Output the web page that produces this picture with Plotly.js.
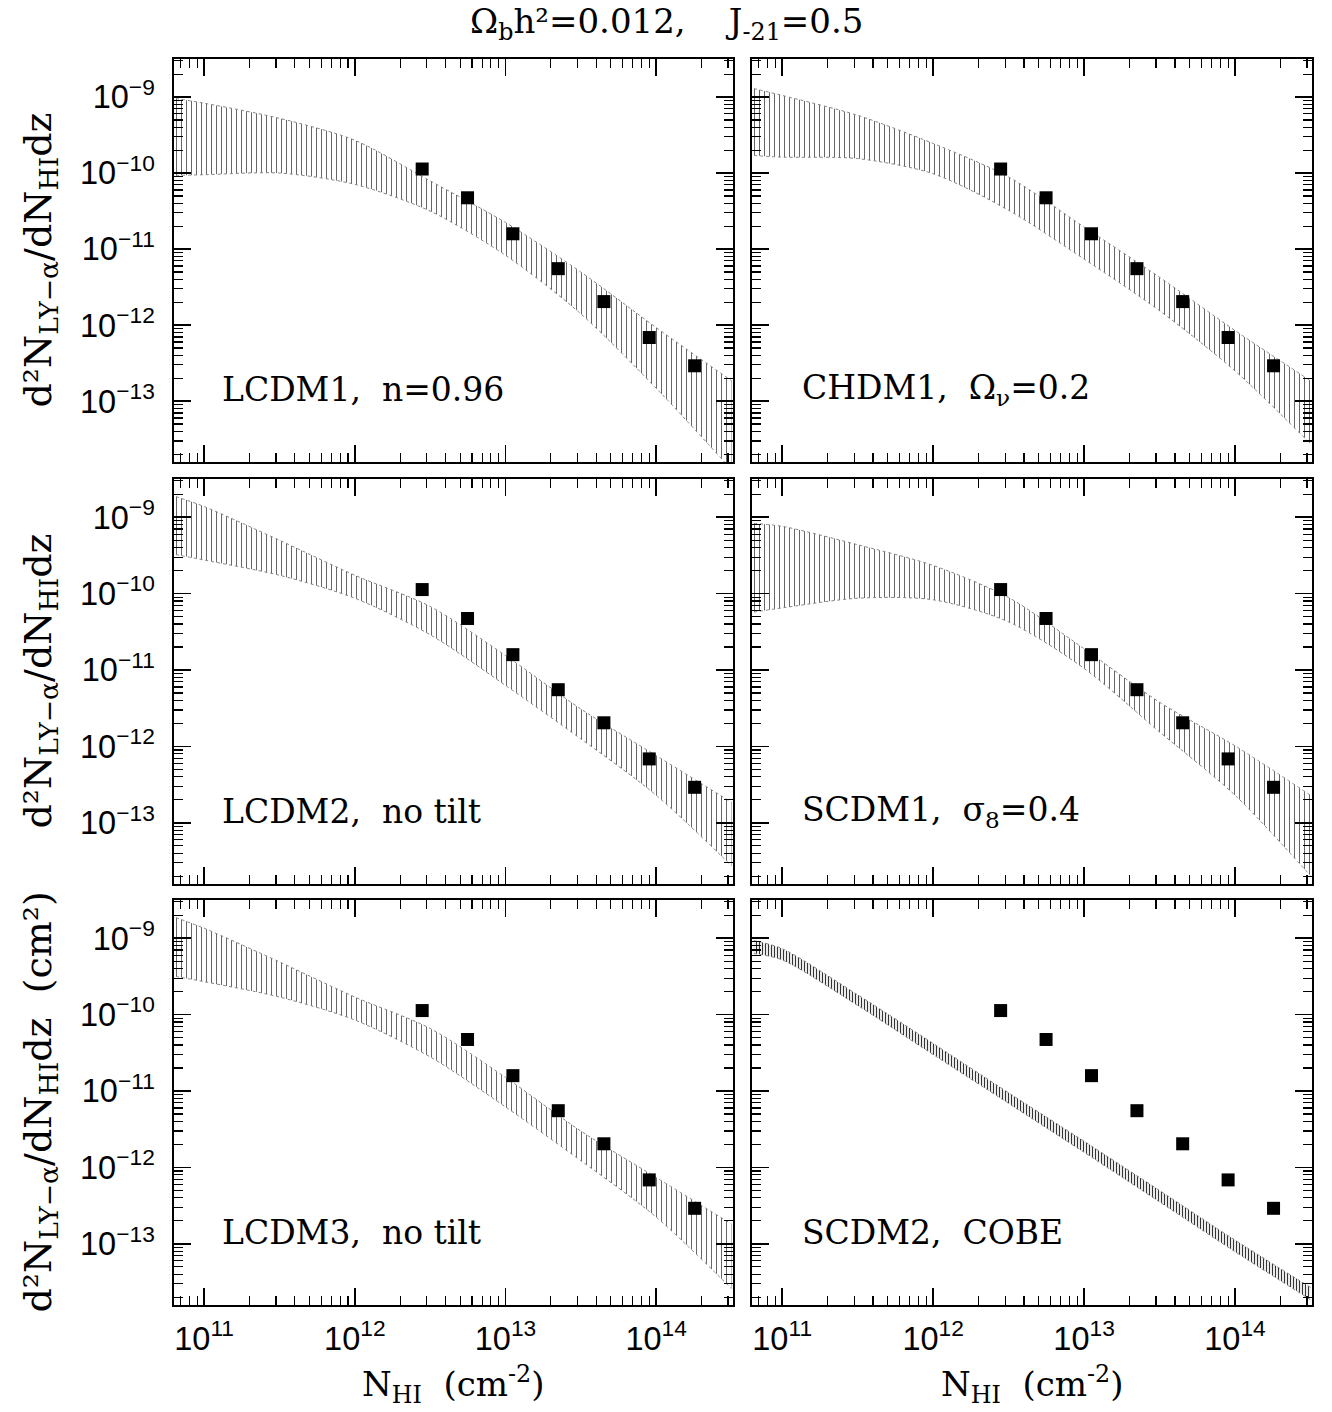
<!DOCTYPE html>
<html>
<head>
<meta charset="utf-8">
<script src="https://cdn.plot.ly/plotly-3.0.1.min.js"></script>
<style>html,body{margin:0;padding:0;background:#fff;}</style>
</head>
<body>
<div id="chart" style="width:1332px;height:1412px;"></div>
<script>
// ---------- data ----------
// observed points (same in all panels)
const obsN = [2.8e12, 5.6e12, 1.12e13, 2.24e13, 4.5e13, 9.0e13, 1.8e14];
const obsF = [1.13e-10, 4.73e-11, 1.59e-11, 5.53e-12, 2.04e-12, 6.87e-13, 2.92e-13];

// column densities at which band edges were read
const bandN = [6.5e10, 1e11, 3.16e11, 1e12, 3.16e12, 1e13, 3.16e13, 1e14, 3.16e14];

const lcdm1Upper = [9.55e-10, 8.3e-10, 5.25e-10, 2.7e-10, 7.9e-11, 2.24e-11, 5.0e-12, 9.3e-13, 1.86e-13];
const lcdm1Lower = [9.3e-11, 9.5e-11, 1.0e-10, 7.1e-11, 3.16e-11, 8.3e-12, 1.41e-12, 1.48e-13, 1.26e-14];

const chdm1Upper = [1.29e-9, 1.05e-9, 5.75e-10, 2.45e-10, 8.9e-11, 1.95e-11, 4.27e-12, 8.5e-13, 1.86e-13];
const chdm1Lower = [1.7e-10, 1.62e-10, 1.55e-10, 9.8e-11, 3.24e-11, 7.4e-12, 1.55e-12, 2.5e-13, 2.75e-14];

const lcdm2Upper = [1.86e-9, 1.38e-9, 5.0e-10, 1.74e-10, 6.8e-11, 1.55e-11, 3.1e-12, 7.6e-13, 1.86e-13];
const lcdm2Lower = [3.24e-10, 2.75e-10, 1.74e-10, 8.7e-11, 2.9e-11, 6.3e-12, 1.26e-12, 2.3e-13, 2.75e-14];

const scdm1Upper = [8.3e-10, 7.6e-10, 4.37e-10, 2.34e-10, 8.9e-11, 1.9e-11, 3.8e-12, 1.02e-12, 2.3e-13];
const scdm1Lower = [5.75e-11, 6.5e-11, 8.7e-11, 8.3e-11, 4.27e-11, 1.05e-11, 1.55e-12, 2.3e-13, 2.04e-14];

const lcdm3Upper = [1.86e-9, 1.35e-9, 4.9e-10, 1.7e-10, 6.6e-11, 1.51e-11, 3.0e-12, 7.4e-13, 1.82e-13];
const lcdm3Lower = [3.16e-10, 2.7e-10, 1.7e-10, 8.5e-11, 2.8e-11, 6.2e-12, 1.23e-12, 2.24e-13, 2.6e-14];

const scdm2Upper = [9.3e-10, 7.3e-10, 1.82e-10, 4.2e-11, 9.5e-12, 2.2e-12, 5.0e-13, 1.12e-13, 2.7e-14];
const scdm2Lower = [6.3e-10, 5.2e-10, 1.32e-10, 3.0e-11, 6.9e-12, 1.58e-12, 3.55e-13, 7.9e-14, 1.86e-14];

const panelLabels = [
  "LCDM1,\u00a0 n=0.96",
  "CHDM1,\u00a0 \u03a9<sub>\u03bd</sub>=0.2",
  "LCDM2,\u00a0 no tilt",
  "SCDM1,\u00a0 \u03c3<sub>8</sub>=0.4",
  "LCDM3,\u00a0 no tilt",
  "SCDM2,\u00a0 COBE"
];
const panelBands = [
  [lcdm1Upper, lcdm1Lower],
  [chdm1Upper, chdm1Lower],
  [lcdm2Upper, lcdm2Lower],
  [scdm1Upper, scdm1Lower],
  [lcdm3Upper, lcdm3Lower],
  [scdm2Upper, scdm2Lower]
];

// ---------- layout geometry ----------
const W = 1332, H = 1412;
const colDom = [[174 / W, 733 / W], [752 / W, 1312 / W]];
const rowDom = [[1 - 462 / H, 1 - 59 / H], [1 - 884 / H, 1 - 479 / H], [1 - 1305 / H, 1 - 900 / H]];

const tickFont = {family: 'Liberation Sans, Arial, sans-serif', size: 26, color: '#000'};
const serif = 'DejaVu Serif, Liberation Serif, serif';

function axisCommon() {
  return {
    type: 'log', dtick: 1, tick0: 0,
    ticks: 'inside', ticklen: 17, tickwidth: 1.5, tickcolor: '#000',
    minor: {ticks: 'inside', ticklen: 9, tickwidth: 1.2, tickcolor: '#000', dtick: 'D1', showgrid: false},
    showline: true, linewidth: 2, linecolor: '#000', mirror: 'ticks',
    showgrid: false, zeroline: false,
    exponentformat: 'power', tickfont: tickFont
  };
}

const traces = [];
const layout = {
  width: W, height: H, autosize: false,
  margin: {l: 0, r: 0, t: 0, b: 0},
  paper_bgcolor: '#fff', plot_bgcolor: '#fff',
  showlegend: false,
  annotations: []
};

for (let i = 0; i < 6; i++) {
  const r = Math.floor(i / 2), c = i % 2;
  const sfx = i === 0 ? '' : String(i + 1);
  const xa = 'x' + sfx, ya = 'y' + sfx;
  const xKey = 'xaxis' + sfx, yKey = 'yaxis' + sfx;

  layout[xKey] = Object.assign(axisCommon(), {
    domain: colDom[c], anchor: ya, range: [10.8, 14.51],
    showticklabels: r === 2, ticklabelstandoff: 5
  });
  layout[yKey] = Object.assign(axisCommon(), {
    domain: rowDom[r], anchor: xa, range: [-13.8, -8.5],
    showticklabels: c === 0, ticklabelstandoff: 12
  });

  const thin = i === 5;
  const [up, lo] = panelBands[i];
  const edge = {color: '#888', width: 1, dash: 'dot', shape: 'spline', smoothing: 0.8};
  traces.push({
    x: bandN, y: lo, xaxis: xa, yaxis: ya, type: 'scatter', mode: 'lines',
    line: edge, hoverinfo: 'skip'
  });
  traces.push({
    x: bandN, y: up, xaxis: xa, yaxis: ya, type: 'scatter', mode: 'lines',
    line: edge, hoverinfo: 'skip',
    fill: 'tonexty', fillcolor: 'rgba(0,0,0,0)',
    fillpattern: thin
      ? {shape: '|', size: 3, solidity: 0.4, fgcolor: '#333'}
      : {shape: '|', size: 5, solidity: 0.2, fgcolor: '#666'}
  });
  traces.push({
    x: obsN, y: obsF, xaxis: xa, yaxis: ya, type: 'scatter', mode: 'markers',
    marker: {symbol: 'square', size: 13, color: '#000'}, cliponaxis: false
  });

  layout.annotations.push({
    xref: xa + ' domain', yref: ya + ' domain',
    x: c === 0 ? 0.083 : 0.086, y: 0.179, xanchor: 'left', yanchor: 'middle',
    text: panelLabels[i], showarrow: false,
    font: {family: serif, size: 33, color: '#000'}
  });
}

// axis titles and overall title
const yTitle = 'd\u00b2N<sub>LY\u2212\u03b1</sub>/dN<sub>HI</sub>dz';
[0, 1].forEach(r => {
  layout.annotations.push({
    xref: 'paper', yref: 'paper', x: 40 / W, y: (rowDom[r][0] + rowDom[r][1]) / 2,
    xanchor: 'center', yanchor: 'middle', textangle: -90, showarrow: false,
    text: yTitle, font: {family: serif, size: 38, color: '#000'}
  });
});
layout.annotations.push({
  xref: 'paper', yref: 'paper', x: 40 / W, y: (rowDom[2][0] + rowDom[2][1]) / 2,
  xanchor: 'center', yanchor: 'middle', textangle: -90, showarrow: false,
  text: yTitle + '\u00a0 (cm\u00b2)', font: {family: serif, size: 38, color: '#000'}
});
[0, 1].forEach(c => {
  layout.annotations.push({
    xref: 'paper', yref: 'paper', x: (colDom[c][0] + colDom[c][1]) / 2, y: 1 - 1384 / H,
    xanchor: 'center', yanchor: 'middle', showarrow: false,
    text: 'N<sub>HI</sub>\u00a0 (cm<sup>-2</sup>)', font: {family: serif, size: 34, color: '#000'}
  });
});
layout.annotations.push({
  xref: 'paper', yref: 'paper', x: 666 / W, y: 1 - 24 / H,
  xanchor: 'center', yanchor: 'middle', showarrow: false,
  text: '\u03a9<sub>b</sub>h\u00b2=0.012,\u00a0\u00a0\u00a0 J<sub>-21</sub>=0.5',
  font: {family: serif, size: 34, color: '#000'}
});

Plotly.newPlot('chart', traces, layout, {staticPlot: true});
</script>
</body>
</html>
